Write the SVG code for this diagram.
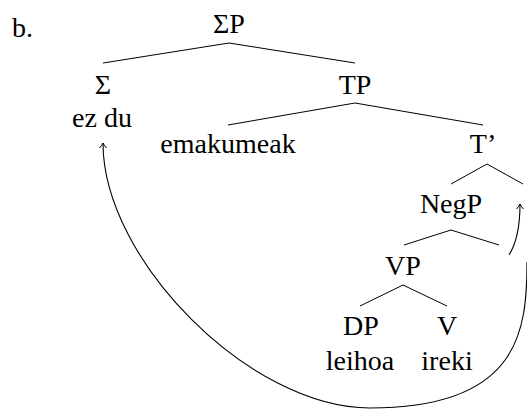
<svg xmlns="http://www.w3.org/2000/svg" width="527" height="410" viewBox="0 0 527 410">
<style>
.e{stroke:#000;stroke-width:1;fill:none}
.a{stroke:#000;stroke-width:1.1;fill:none;marker-end:url(#ah)}
.t{font-family:"Liberation Serif","Times New Roman",serif;font-size:28px;fill:#000;text-anchor:middle}
</style>
<defs>
<marker id="ah" viewBox="-6 -5 7 10" refX="0" refY="0" markerWidth="7" markerHeight="10" markerUnits="userSpaceOnUse" orient="auto">
<path d="M-5,-3.5 Q-2,-0.8 0,0 Q-2,0.8 -5,3.5" fill="none" stroke="#000" stroke-width="1"/>
</marker>
</defs>
<g class="t">
<text x="12" y="37" text-anchor="start">b.</text>
<g id="SigmaP"><text x="229" y="33">ΣP</text></g>
<g id="Sigma"><text x="103" y="94">Σ</text><text x="102" y="127">ez du</text></g>
<g id="TP"><text x="355" y="94">TP</text></g>
<g id="emakumeak"><text x="228" y="153">emakumeak</text></g>
<g id="Tbar"><text x="483" y="153">T’</text></g>
<g id="NegP"><text x="451" y="213">NegP</text></g>
<g id="VP"><text x="403" y="275">VP</text></g>
<g id="DP"><text x="361" y="335">DP</text><text x="360" y="370">leihoa</text></g>
<g id="V"><text x="447" y="335">V</text><text x="447" y="370">ireki</text></g>
</g>
<g id="connectors">
<path class="e" d="M103,63 L229,43 L355,63"/>
<path class="e" d="M228,125 L355,103 L483,125"/>
<path class="e" d="M451,184 L487,164 L523,184"/>
<path class="e" d="M404,245 L451,230 L499,245"/>
<path class="e" d="M360,306 L403,285 L447,306"/>
<path class="a" d="M509,255 C516,244 520,226 520,204"/>
<path class="a" d="M527,262 C527,330 520,408 370,408 C250,408 103,260 103,143"/>
</g>
</svg>
